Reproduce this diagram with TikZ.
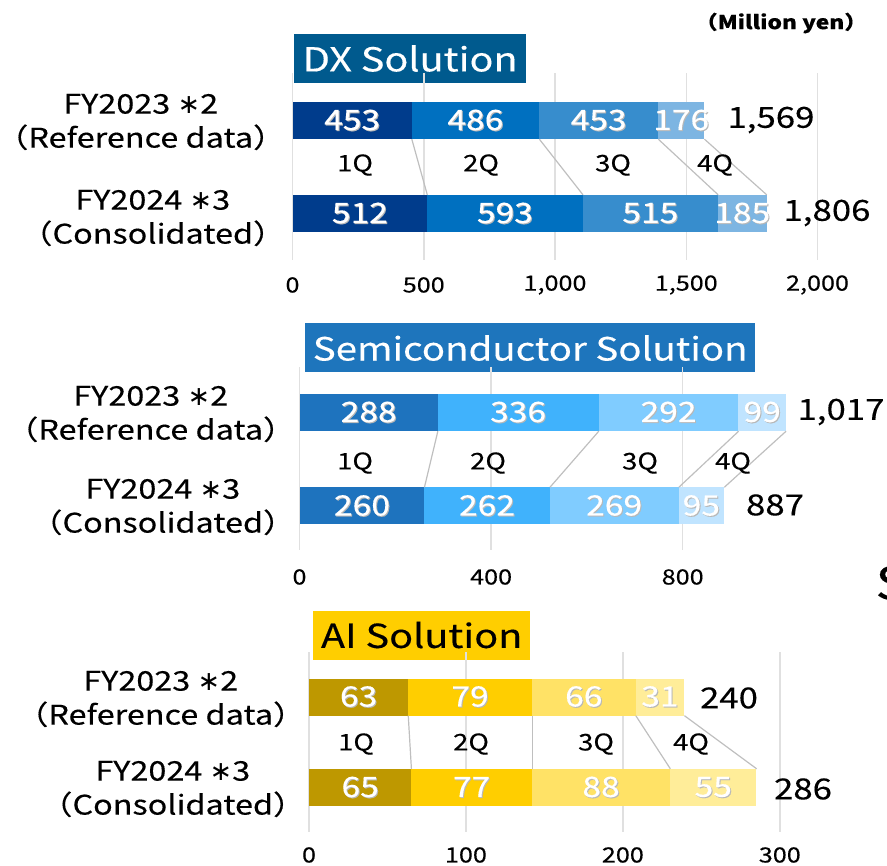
\documentclass[tikz,border=0pt]{standalone}
\usepackage{fontspec}
\setmainfont{Noto Sans CJK JP}[FakeStretch=1.2, FakeBold=0.3]
\newfontfamily\symfont{DejaVu Sans}
\usetikzlibrary{positioning}

\definecolor{dxA}{RGB}{0,60,140}
\definecolor{dxB}{RGB}{0,112,192}
\definecolor{dxC}{RGB}{55,141,205}
\definecolor{dxD}{RGB}{125,181,226}
\definecolor{dxTitle}{RGB}{0,90,142}
\definecolor{scA}{RGB}{30,115,190}
\definecolor{scB}{RGB}{64,178,252}
\definecolor{scC}{RGB}{128,204,255}
\definecolor{scD}{RGB}{192,228,255}
\definecolor{scTitle}{RGB}{30,117,188}
\definecolor{aiA}{RGB}{190,152,0}
\definecolor{aiB}{RGB}{255,206,0}
\definecolor{aiC}{RGB}{255,226,102}
\definecolor{aiD}{RGB}{255,237,153}

% white value with a soft drop shadow, zero width so the bar keeps its size
\newcommand{\shadedval}[1]{\makebox[0pt]{\rlap{\kern1pt\raisebox{-1pt}{\color{black!28}#1}}#1}}

\begin{document}
\begin{tikzpicture}[
        x=1pt, y=-1pt,
        seg/.style={rectangle, inner sep=0pt, minimum height=37pt, anchor=west, text=white, font=\fontsize{28}{28}\selectfont},
        qlabel/.style={font=\fontsize{23}{23}\selectfont},
        total/.style={font=\fontsize{29}{29}\selectfont},
        tick/.style={font=\fontsize{21}{21}\selectfont},
        fylabel/.style={align=center, anchor=east, font=\fontsize{27}{34}\selectfont},
        title/.style={rectangle, inner sep=0pt, minimum height=49pt, anchor=west, text=white, font=\fontsize{32}{32}\selectfont},
        grid/.style={draw=black!12, line width=1.5pt},
        link/.style={draw=black!25, line width=1.2pt}
        ]
        \useasboundingbox (0,0) rectangle (887,866);

        \node (unit) [font=\bfseries\fontsize{19}{19}\selectfont] at (781,23) {（Million yen）};

        % DX Solution
        \node (dxtitle) [title, fill=dxTitle, minimum width=232pt] at (294,58.5) {\fontsize{33}{33}\selectfont DX Solution};
        \foreach \k/\lbl in {0/0, 1/500, 2/{1,000}, 3/{1,500}, 4/{2,000}} {
            \draw [grid] ({292.5+131.25*\k},73) -- ({292.5+131.25*\k},260);
            \node (dxtick\k) [tick] at ({292.5+131.25*\k},285) {\lbl};
        }
        \foreach \s/\v/\c [count=\i] in {0/453/dxA, 453/486/dxB, 939/453/dxC, 1392/176/dxD}
            \node (dxa\i) [seg, fill=\c, minimum width={\v*0.2625pt}] at ({292.5+\s*0.2625},120.5) {\shadedval{\v}};
        \foreach \s/\v/\c [count=\i] in {0/512/dxA, 512/593/dxB, 1105/515/dxC, 1620/185/dxD}
            \node (dxb\i) [seg, fill=\c, minimum width={\v*0.2625pt}] at ({292.5+\s*0.2625},213.5) {\shadedval{\v}};
        \foreach \i in {1,...,4}
            \draw [link] (dxa\i.south east) -- (dxb\i.north east);
        \node (dxq1) [qlabel] at (355,165) {1Q};
        \node (dxq2) [qlabel] at (481,165) {2Q};
        \node (dxq3) [qlabel] at (613,165) {3Q};
        \node (dxq4) [qlabel] at (715,165) {4Q};
        \node (dxtota) [total] at (771,120) {1,569};
        \node (dxtotb) [total] at (827,213) {1,806};
        \node (dxfya) [fylabel] at (289,122) {FY2023 {\symfont ∗}2\\（Reference data）};
        \node (dxfyb) [fylabel] at (289,218) {FY2024 {\symfont ∗}3\\（Consolidated）};

        % Semiconductor Solution
        \node (sctitle) [title, fill=scTitle, minimum width=450pt] at (305,348) {Semiconductor Solution};
        \foreach \k/\lbl in {0/0, 1/400, 2/800} {
            \draw [grid] ({299.5+191.6*\k},367) -- ({299.5+191.6*\k},550);
            \node (sctick\k) [tick] at ({299.5+191.6*\k},577) {\lbl};
        }
        \foreach \s/\v/\c [count=\i] in {0/288/scA, 288/336/scB, 624/292/scC, 916/99/scD}
            \node (sca\i) [seg, fill=\c, minimum width={\v*0.479pt}] at ({299.5+\s*0.479},412.5) {\shadedval{\v}};
        \foreach \s/\v/\c [count=\i] in {0/260/scA, 260/262/scB, 522/269/scC, 791/95/scD}
            \node (scb\i) [seg, fill=\c, minimum width={\v*0.479pt}] at ({299.5+\s*0.479},506) {\shadedval{\v}};
        \foreach \i in {1,...,4}
            \draw [link] (sca\i.south east) -- (scb\i.north east);
        \node (scq1) [qlabel] at (355,463) {1Q};
        \node (scq2) [qlabel] at (488,463) {2Q};
        \node (scq3) [qlabel] at (640,463) {3Q};
        \node (scq4) [qlabel] at (733,463) {4Q};
        \node (sctota) [total] at (841,412) {1,017};
        \node (sctotb) [total] at (775,505) {887};
        \node (scfya) [fylabel] at (299,414) {FY2023 {\symfont ∗}2\\（Reference data）};
        \node (scfyb) [fylabel] at (299,507) {FY2024 {\symfont ∗}3\\（Consolidated）};
        \node (cut) [anchor=west, font=\fontsize{45}{45}\selectfont] at (872,583) {S};

        % AI Solution
        \node (aititle) [title, fill=aiB, text=black, minimum width=217pt] at (313,635) {\fontsize{33}{33}\selectfont AI Solution};
        \foreach \k/\lbl in {0/0, 1/100, 2/200, 3/300} {
            \draw [grid] ({309+156.93*\k},652) -- ({309+156.93*\k},832);
            \node (aitick\k) [tick] at ({309+156.93*\k},855) {\lbl};
        }
        \foreach \s/\v/\c [count=\i] in {0/63/aiA, 63/79/aiB, 142/66/aiC, 208/31/aiD}
            \node (aia\i) [seg, fill=\c, minimum width={\v*1.5693pt}] at ({309+\s*1.5693},697) {\shadedval{\v}};
        \foreach \s/\v/\c [count=\i] in {0/65/aiA, 65/77/aiB, 142/88/aiC, 230/55/aiD}
            \node (aib\i) [seg, fill=\c, minimum width={\v*1.5693pt}] at ({309+\s*1.5693},787.5) {\shadedval{\v}};
        \foreach \i in {1,...,4}
            \draw [link] (aia\i.south east) -- (aib\i.north east);
        \node (aiq1) [qlabel] at (356,744) {1Q};
        \node (aiq2) [qlabel] at (471,744) {2Q};
        \node (aiq3) [qlabel] at (596,744) {3Q};
        \node (aiq4) [qlabel] at (691,744) {4Q};
        \node (aitota) [total] at (729,698) {240};
        \node (aitotb) [total] at (803,789) {286};
        \node (aifya) [fylabel] at (309,699) {FY2023 {\symfont ∗}2\\（Reference data）};
        \node (aifyb) [fylabel] at (309,789) {FY2024 {\symfont ∗}3\\（Consolidated）};
    \end{tikzpicture}
\end{document}
